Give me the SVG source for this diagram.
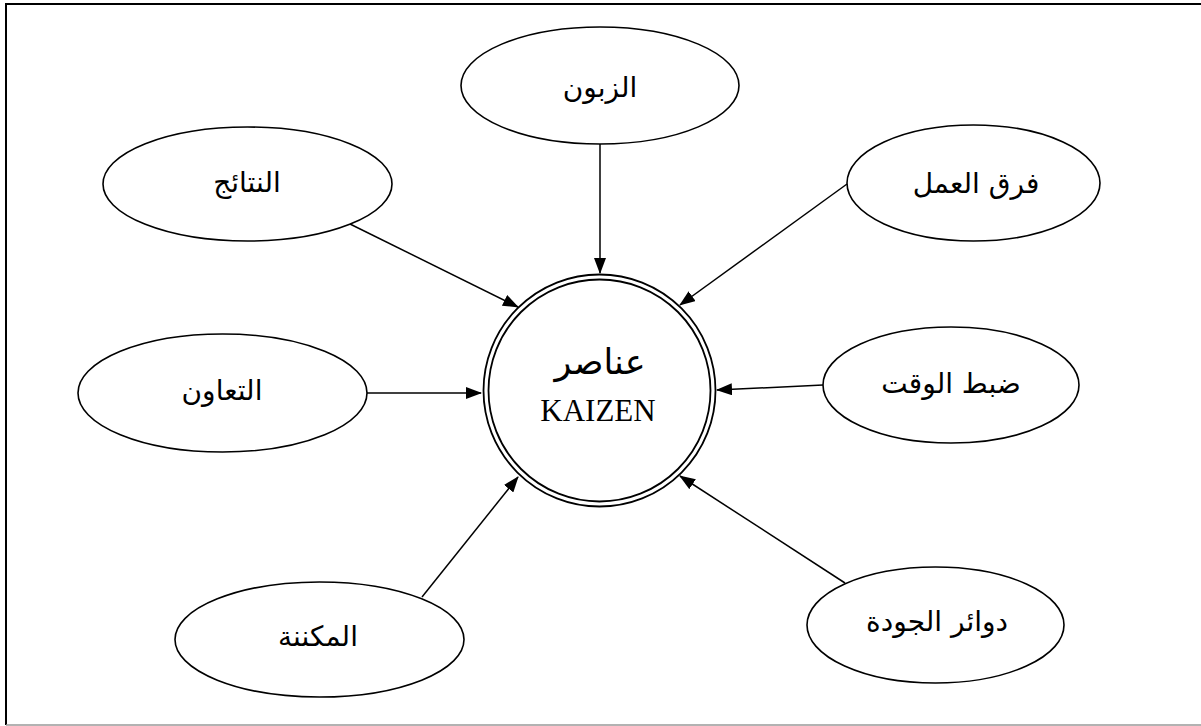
<svg xmlns="http://www.w3.org/2000/svg" width="1201" height="726" viewBox="0 0 1201 726">
  <style>
    .node { fill: #ffffff; stroke: #000000; stroke-width: 1.6; }
    .ring { fill: none; stroke: #000000; stroke-width: 1.8; }
    .edge { fill: none; stroke: #000000; stroke-width: 1.5; marker-end: url(#arrow); }
    .ar { font-family: "DejaVu Sans", sans-serif; font-size: 28px; fill: #000000; text-anchor: middle; direction: rtl; }
    .lat { font-family: "Liberation Serif", serif; font-size: 31px; fill: #000000; text-anchor: middle; }
  </style>
  <defs>
    <marker id="arrow" viewBox="0 0 16 12" refX="15" refY="6" markerWidth="16" markerHeight="12" markerUnits="userSpaceOnUse" orient="auto">
      <path d="M0,0 L16,6 L0,12 Z" fill="#000000"/>
    </marker>
  </defs>

  <rect width="1201" height="726" fill="#ffffff"/>

  <!-- page frame -->
  <g id="frame">
    <path d="M6,725 L6,4 L1201,4" fill="none" stroke="#000000" stroke-width="2"/>
    <path d="M6,725 L1201,725" fill="none" stroke="#999999" stroke-width="1.5"/>
  </g>

  <!-- connectors -->
  <g id="connectors">
    <path class="edge" d="M600,144 L600,273"/>
    <path class="edge" d="M847,184 L680,305"/>
    <path class="edge" d="M350,224 L518,307"/>
    <path class="edge" d="M367,393 L481,393"/>
    <path class="edge" d="M823,385 L717,390"/>
    <path class="edge" d="M422,597 L518,477"/>
    <path class="edge" d="M845,583 L680,476"/>
  </g>

  <!-- central node -->
  <g id="kaizen">
    <circle class="ring" cx="599.5" cy="390.5" r="116"/>
    <circle class="ring" cx="599.5" cy="390.5" r="111"/>
    <text class="ar" x="600" y="374" style="font-size:35px">عناصر</text>
    <text class="lat" x="598" y="421">KAIZEN</text>
  </g>

  <g id="customer">
    <ellipse class="node" cx="600" cy="85.5" rx="139" ry="58.5"/>
    <text class="ar" x="600" y="97">الزبون</text>
  </g>

  <g id="teams">
    <ellipse class="node" cx="973.5" cy="183" rx="126.5" ry="58"/>
    <text class="ar" x="976" y="193">فرق العمل</text>
  </g>

  <g id="results">
    <ellipse class="node" cx="247.5" cy="184" rx="144.5" ry="57"/>
    <text class="ar" x="247" y="192">النتائج</text>
  </g>

  <g id="cooperation">
    <ellipse class="node" cx="222.5" cy="393" rx="144.5" ry="59"/>
    <text class="ar" x="222" y="400">التعاون</text>
  </g>

  <g id="timing">
    <ellipse class="node" cx="951" cy="385" rx="128" ry="58"/>
    <text class="ar" x="951" y="393">ضبط الوقت</text>
  </g>

  <g id="mechanisation">
    <ellipse class="node" cx="319.5" cy="639.5" rx="144.5" ry="57.5"/>
    <text class="ar" x="318" y="646">المكننة</text>
  </g>

  <g id="quality-circles">
    <ellipse class="node" cx="935.5" cy="625" rx="128.5" ry="58"/>
    <text class="ar" x="937" y="631">دوائر الجودة</text>
  </g>
</svg>
